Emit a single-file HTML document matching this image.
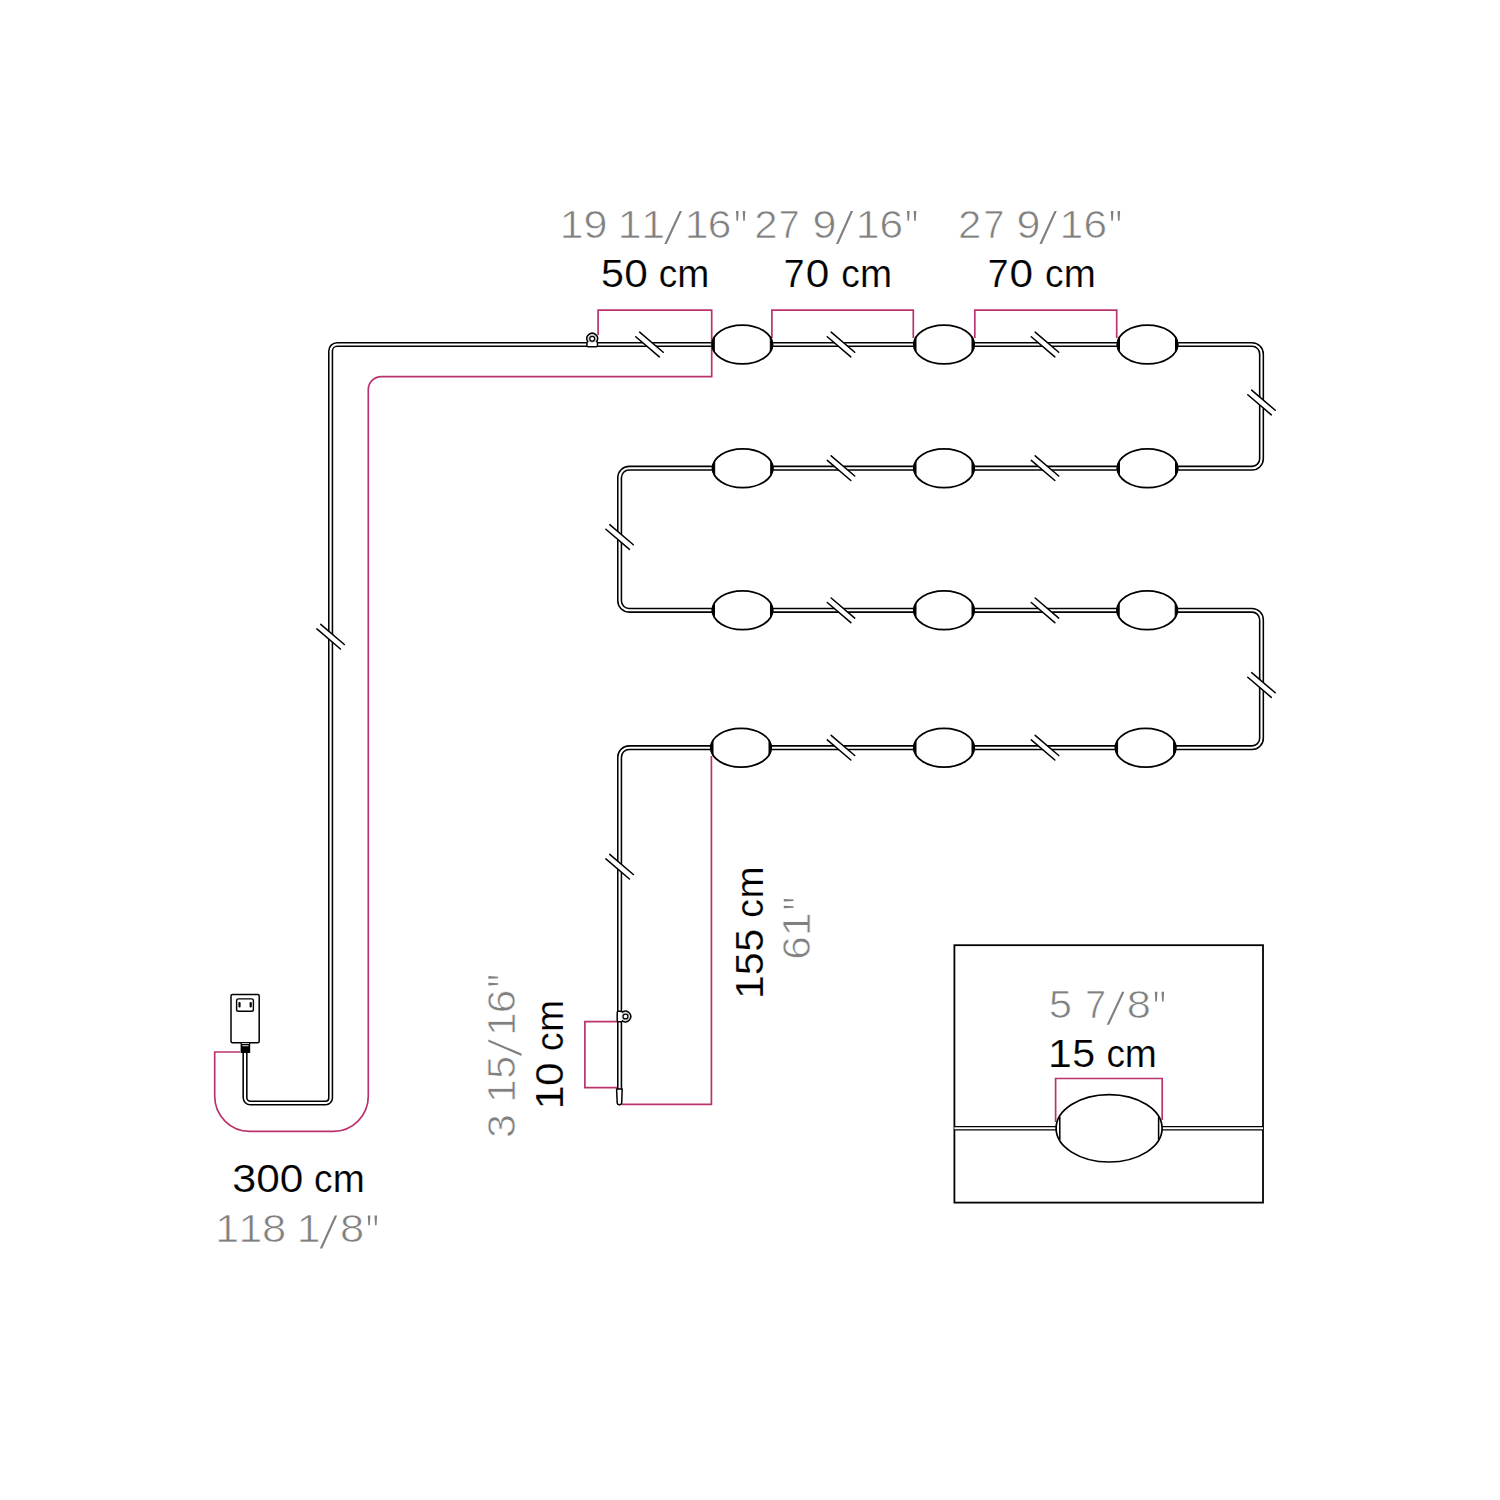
<!DOCTYPE html>
<html><head><meta charset="utf-8"><style>
html,body{margin:0;padding:0;background:#fff;overflow:hidden;width:1500px;height:1500px;}
svg{display:block;}
text{font-family:"Liberation Sans", sans-serif;font-size:38.5px;}
</style></head><body>
<svg width="1500" height="1500" viewBox="0 0 1500 1500">
<rect width="1500" height="1500" fill="#fff"/>
<path d="M240,1052 L214.7,1052 L214.7,1096.3 A35,35 0 0 0 249.7,1131.3 L333.3,1131.3 A35,35 0 0 0 368.3,1096.3 L368.3,389.6 A13,13 0 0 1 381.3,376.6 L711.7,376.6 L711.7,337" fill="none" stroke="#bb336e" stroke-width="1.7"/>
<path d="M598.1,335 L598.1,310.2 L711.7,310.2 L711.7,337" fill="none" stroke="#bb336e" stroke-width="1.7"/>
<path d="M771.9,338 L771.9,310.2 L913.3,310.2 L913.3,338" fill="none" stroke="#bb336e" stroke-width="1.7"/>
<path d="M974.8,338 L974.8,310.2 L1116.7,310.2 L1116.7,338" fill="none" stroke="#bb336e" stroke-width="1.7"/>
<path d="M711.4,756 L711.4,1104.3 L622,1104.3" fill="none" stroke="#bb336e" stroke-width="1.7"/>
<path d="M617.5,1021.7 L584.9,1021.7 L584.9,1087.6 L617.5,1087.6" fill="none" stroke="#bb336e" stroke-width="1.7"/>
<path d="M1055.6,1122 L1055.6,1078.5 L1162.2,1078.5 L1162.2,1120" fill="none" stroke="#bb336e" stroke-width="1.7"/>
<path d="M245.0,1053 L245.00,1097.50 A5.5,5.5 0 0 0 250.50,1103.00 L325.60,1103.00 A5,5 0 0 0 330.60,1098.00 L330.60,351.00 A6.5,6.5 0 0 1 337.10,344.50 L1252.00,344.50 A9.5,9.5 0 0 1 1261.50,354.00 L1261.50,458.70 A9.5,9.5 0 0 1 1252.00,468.20 L629.10,468.20 A9.5,9.5 0 0 0 619.60,477.70 L619.60,600.80 A9.5,9.5 0 0 0 629.10,610.30 L1252.00,610.30 A9.5,9.5 0 0 1 1261.50,619.80 L1261.50,738.20 A9.5,9.5 0 0 1 1252.00,747.70 L629.10,747.70 A9.5,9.5 0 0 0 619.60,757.20 L619.6,1092" fill="none" stroke="#000" stroke-width="5.2"/>
<path d="M245.0,1053 L245.00,1097.50 A5.5,5.5 0 0 0 250.50,1103.00 L325.60,1103.00 A5,5 0 0 0 330.60,1098.00 L330.60,351.00 A6.5,6.5 0 0 1 337.10,344.50 L1252.00,344.50 A9.5,9.5 0 0 1 1261.50,354.00 L1261.50,458.70 A9.5,9.5 0 0 1 1252.00,468.20 L629.10,468.20 A9.5,9.5 0 0 0 619.60,477.70 L619.60,600.80 A9.5,9.5 0 0 0 629.10,610.30 L1252.00,610.30 A9.5,9.5 0 0 1 1261.50,619.80 L1261.50,738.20 A9.5,9.5 0 0 1 1252.00,747.70 L629.10,747.70 A9.5,9.5 0 0 0 619.60,757.20 L619.6,1092" fill="none" stroke="#fff" stroke-width="2.1"/>
<polygon points="638.12,338.73 656.98,354.83 660.88,350.27 642.02,334.17" fill="#fff"/><line x1="635.77" y1="336.71" x2="659.34" y2="356.85" stroke="#000" stroke-width="1.5" stroke-linecap="round"/><line x1="639.66" y1="332.15" x2="663.23" y2="352.29" stroke="#000" stroke-width="1.5" stroke-linecap="round"/>
<polygon points="829.62,338.73 848.48,354.83 852.38,350.27 833.52,334.17" fill="#fff"/><line x1="827.27" y1="336.71" x2="850.84" y2="356.85" stroke="#000" stroke-width="1.5" stroke-linecap="round"/><line x1="831.16" y1="332.15" x2="854.73" y2="352.29" stroke="#000" stroke-width="1.5" stroke-linecap="round"/>
<polygon points="1033.62,338.73 1052.48,354.83 1056.38,350.27 1037.52,334.17" fill="#fff"/><line x1="1031.27" y1="336.71" x2="1054.84" y2="356.85" stroke="#000" stroke-width="1.5" stroke-linecap="round"/><line x1="1035.16" y1="332.15" x2="1058.73" y2="352.29" stroke="#000" stroke-width="1.5" stroke-linecap="round"/>
<polygon points="1250.12,396.73 1268.98,412.83 1272.88,408.27 1254.02,392.17" fill="#fff"/><line x1="1247.77" y1="394.71" x2="1271.34" y2="414.85" stroke="#000" stroke-width="1.5" stroke-linecap="round"/><line x1="1251.66" y1="390.15" x2="1275.23" y2="410.29" stroke="#000" stroke-width="1.5" stroke-linecap="round"/>
<polygon points="829.62,462.43 848.48,478.53 852.38,473.97 833.52,457.87" fill="#fff"/><line x1="827.27" y1="460.41" x2="850.84" y2="480.55" stroke="#000" stroke-width="1.5" stroke-linecap="round"/><line x1="831.16" y1="455.85" x2="854.73" y2="475.99" stroke="#000" stroke-width="1.5" stroke-linecap="round"/>
<polygon points="1033.62,462.43 1052.48,478.53 1056.38,473.97 1037.52,457.87" fill="#fff"/><line x1="1031.27" y1="460.41" x2="1054.84" y2="480.55" stroke="#000" stroke-width="1.5" stroke-linecap="round"/><line x1="1035.16" y1="455.85" x2="1058.73" y2="475.99" stroke="#000" stroke-width="1.5" stroke-linecap="round"/>
<polygon points="608.22,531.23 627.08,547.33 630.98,542.77 612.12,526.67" fill="#fff"/><line x1="605.87" y1="529.21" x2="629.44" y2="549.35" stroke="#000" stroke-width="1.5" stroke-linecap="round"/><line x1="609.76" y1="524.65" x2="633.33" y2="544.79" stroke="#000" stroke-width="1.5" stroke-linecap="round"/>
<polygon points="829.62,604.53 848.48,620.63 852.38,616.07 833.52,599.97" fill="#fff"/><line x1="827.27" y1="602.51" x2="850.84" y2="622.65" stroke="#000" stroke-width="1.5" stroke-linecap="round"/><line x1="831.16" y1="597.95" x2="854.73" y2="618.09" stroke="#000" stroke-width="1.5" stroke-linecap="round"/>
<polygon points="1033.62,604.53 1052.48,620.63 1056.38,616.07 1037.52,599.97" fill="#fff"/><line x1="1031.27" y1="602.51" x2="1054.84" y2="622.65" stroke="#000" stroke-width="1.5" stroke-linecap="round"/><line x1="1035.16" y1="597.95" x2="1058.73" y2="618.09" stroke="#000" stroke-width="1.5" stroke-linecap="round"/>
<polygon points="1250.12,679.23 1268.98,695.33 1272.88,690.77 1254.02,674.67" fill="#fff"/><line x1="1247.77" y1="677.21" x2="1271.34" y2="697.35" stroke="#000" stroke-width="1.5" stroke-linecap="round"/><line x1="1251.66" y1="672.65" x2="1275.23" y2="692.79" stroke="#000" stroke-width="1.5" stroke-linecap="round"/>
<polygon points="829.62,741.93 848.48,758.03 852.38,753.47 833.52,737.37" fill="#fff"/><line x1="827.27" y1="739.91" x2="850.84" y2="760.05" stroke="#000" stroke-width="1.5" stroke-linecap="round"/><line x1="831.16" y1="735.35" x2="854.73" y2="755.49" stroke="#000" stroke-width="1.5" stroke-linecap="round"/>
<polygon points="1033.62,741.93 1052.48,758.03 1056.38,753.47 1037.52,737.37" fill="#fff"/><line x1="1031.27" y1="739.91" x2="1054.84" y2="760.05" stroke="#000" stroke-width="1.5" stroke-linecap="round"/><line x1="1035.16" y1="735.35" x2="1058.73" y2="755.49" stroke="#000" stroke-width="1.5" stroke-linecap="round"/>
<polygon points="608.22,860.93 627.08,877.03 630.98,872.47 612.12,856.37" fill="#fff"/><line x1="605.87" y1="858.91" x2="629.44" y2="879.05" stroke="#000" stroke-width="1.5" stroke-linecap="round"/><line x1="609.76" y1="854.35" x2="633.33" y2="874.49" stroke="#000" stroke-width="1.5" stroke-linecap="round"/>
<polygon points="319.22,630.93 338.08,647.03 341.98,642.47 323.12,626.37" fill="#fff"/><line x1="316.87" y1="628.91" x2="340.44" y2="649.05" stroke="#000" stroke-width="1.5" stroke-linecap="round"/><line x1="320.76" y1="624.35" x2="344.33" y2="644.49" stroke="#000" stroke-width="1.5" stroke-linecap="round"/>
<ellipse cx="742.3" cy="344.5" rx="30.2" ry="19.4" fill="#fff" stroke="#000" stroke-width="1.8"/><path d="M714.30,337.23 A30.2,19.4 0 0 0 714.30,351.77 Z" fill="#000" stroke="#000" stroke-width="1"/><path d="M770.30,337.23 A30.2,19.4 0 0 1 770.30,351.77 Z" fill="#000" stroke="#000" stroke-width="1"/>
<ellipse cx="944" cy="344.5" rx="30.2" ry="19.4" fill="#fff" stroke="#000" stroke-width="1.8"/><path d="M916.00,337.23 A30.2,19.4 0 0 0 916.00,351.77 Z" fill="#000" stroke="#000" stroke-width="1"/><path d="M972.00,337.23 A30.2,19.4 0 0 1 972.00,351.77 Z" fill="#000" stroke="#000" stroke-width="1"/>
<ellipse cx="1147.5" cy="344.5" rx="30.2" ry="19.4" fill="#fff" stroke="#000" stroke-width="1.8"/><path d="M1119.50,337.23 A30.2,19.4 0 0 0 1119.50,351.77 Z" fill="#000" stroke="#000" stroke-width="1"/><path d="M1175.50,337.23 A30.2,19.4 0 0 1 1175.50,351.77 Z" fill="#000" stroke="#000" stroke-width="1"/>
<ellipse cx="742.7" cy="468.2" rx="30.2" ry="19.4" fill="#fff" stroke="#000" stroke-width="1.8"/><path d="M714.70,460.93 A30.2,19.4 0 0 0 714.70,475.47 Z" fill="#000" stroke="#000" stroke-width="1"/><path d="M770.70,460.93 A30.2,19.4 0 0 1 770.70,475.47 Z" fill="#000" stroke="#000" stroke-width="1"/>
<ellipse cx="944" cy="468.2" rx="30.2" ry="19.4" fill="#fff" stroke="#000" stroke-width="1.8"/><path d="M916.00,460.93 A30.2,19.4 0 0 0 916.00,475.47 Z" fill="#000" stroke="#000" stroke-width="1"/><path d="M972.00,460.93 A30.2,19.4 0 0 1 972.00,475.47 Z" fill="#000" stroke="#000" stroke-width="1"/>
<ellipse cx="1147.5" cy="468.2" rx="30.2" ry="19.4" fill="#fff" stroke="#000" stroke-width="1.8"/><path d="M1119.50,460.93 A30.2,19.4 0 0 0 1119.50,475.47 Z" fill="#000" stroke="#000" stroke-width="1"/><path d="M1175.50,460.93 A30.2,19.4 0 0 1 1175.50,475.47 Z" fill="#000" stroke="#000" stroke-width="1"/>
<ellipse cx="742.5" cy="610.3" rx="30.2" ry="19.4" fill="#fff" stroke="#000" stroke-width="1.8"/><path d="M714.50,603.03 A30.2,19.4 0 0 0 714.50,617.57 Z" fill="#000" stroke="#000" stroke-width="1"/><path d="M770.50,603.03 A30.2,19.4 0 0 1 770.50,617.57 Z" fill="#000" stroke="#000" stroke-width="1"/>
<ellipse cx="944" cy="610.3" rx="30.2" ry="19.4" fill="#fff" stroke="#000" stroke-width="1.8"/><path d="M916.00,603.03 A30.2,19.4 0 0 0 916.00,617.57 Z" fill="#000" stroke="#000" stroke-width="1"/><path d="M972.00,603.03 A30.2,19.4 0 0 1 972.00,617.57 Z" fill="#000" stroke="#000" stroke-width="1"/>
<ellipse cx="1147.2" cy="610.3" rx="30.2" ry="19.4" fill="#fff" stroke="#000" stroke-width="1.8"/><path d="M1119.20,603.03 A30.2,19.4 0 0 0 1119.20,617.57 Z" fill="#000" stroke="#000" stroke-width="1"/><path d="M1175.20,603.03 A30.2,19.4 0 0 1 1175.20,617.57 Z" fill="#000" stroke="#000" stroke-width="1"/>
<ellipse cx="741" cy="747.7" rx="30.2" ry="19.4" fill="#fff" stroke="#000" stroke-width="1.8"/><path d="M713.00,740.43 A30.2,19.4 0 0 0 713.00,754.97 Z" fill="#000" stroke="#000" stroke-width="1"/><path d="M769.00,740.43 A30.2,19.4 0 0 1 769.00,754.97 Z" fill="#000" stroke="#000" stroke-width="1"/>
<ellipse cx="944" cy="747.7" rx="30.2" ry="19.4" fill="#fff" stroke="#000" stroke-width="1.8"/><path d="M916.00,740.43 A30.2,19.4 0 0 0 916.00,754.97 Z" fill="#000" stroke="#000" stroke-width="1"/><path d="M972.00,740.43 A30.2,19.4 0 0 1 972.00,754.97 Z" fill="#000" stroke="#000" stroke-width="1"/>
<ellipse cx="1145.6" cy="747.7" rx="30.2" ry="19.4" fill="#fff" stroke="#000" stroke-width="1.8"/><path d="M1117.60,740.43 A30.2,19.4 0 0 0 1117.60,754.97 Z" fill="#000" stroke="#000" stroke-width="1"/><path d="M1173.60,740.43 A30.2,19.4 0 0 1 1173.60,754.97 Z" fill="#000" stroke="#000" stroke-width="1"/>
<g transform="translate(592.2,344.5) rotate(0)"><path d="M-5.3,1.1 L-5.3,-1.6 Q-5.3,-2.4 -4.4,-2.9 A5.3,5.3 0 1 1 4.4,-2.9 Q5.3,-2.4 5.3,-1.6 L5.3,1.1 Q5.3,2.3 4.1,2.3 L-4.1,2.3 Q-5.3,2.3 -5.3,1.1 Z" fill="#fff" stroke="#000" stroke-width="1.5"/><circle cx="0" cy="-5.8" r="3.7" fill="none" stroke="#b8b8b8" stroke-width="0.9"/><circle cx="0" cy="-5.8" r="2.45" fill="#fff" stroke="#000" stroke-width="1.25"/></g>
<g transform="translate(619.5,1016.5) rotate(90)"><path d="M-5.3,1.1 L-5.3,-1.6 Q-5.3,-2.4 -4.4,-2.9 A5.3,5.3 0 1 1 4.4,-2.9 Q5.3,-2.4 5.3,-1.6 L5.3,1.1 Q5.3,2.3 4.1,2.3 L-4.1,2.3 Q-5.3,2.3 -5.3,1.1 Z" fill="#fff" stroke="#000" stroke-width="1.5"/><circle cx="0" cy="-6.0" r="3.7" fill="none" stroke="#b8b8b8" stroke-width="0.9"/><circle cx="0" cy="-6.0" r="2.45" fill="#fff" stroke="#000" stroke-width="1.25"/></g>
<path d="M616.6,1089 L622.2,1089 L621.7,1102.6 A2.25,2.25 0 0 1 617.2,1102.6 Z" fill="#fff" stroke="#000" stroke-width="1.5" stroke-linejoin="round"/>
<rect x="231" y="994.4" width="28.2" height="48.3" rx="1.5" fill="#fff" stroke="#000" stroke-width="1.5"/>
<rect x="236.6" y="998.9" width="16.8" height="12.3" rx="1.8" fill="#fff" stroke="#000" stroke-width="1.4"/>
<rect x="238.4" y="1002.0" width="2.2" height="5.4" rx="1.0" fill="#000"/>
<rect x="249.6" y="1002.0" width="2.2" height="5.4" rx="1.0" fill="#000"/>
<rect x="240.6" y="1042" width="9.6" height="11" fill="#000"/>
<rect x="241.8" y="1043.1" width="7.2" height="0.8" fill="#fff"/>
<rect x="242.4" y="1045.3" width="6.0" height="0.9" fill="#fff"/>
<rect x="954.4" y="945.2" width="308.6" height="257.4" fill="none" stroke="#000" stroke-width="1.8"/>
<path d="M954.4,1128.2 L1263,1128.2" stroke="#000" stroke-width="4.6"/>
<path d="M954.4,1128.2 L1263,1128.2" stroke="#fff" stroke-width="2.0"/>
<ellipse cx="1109.1" cy="1128.3" rx="53.0" ry="33.7" fill="#fff" stroke="#000" stroke-width="1.7"/>
<path d="M1059.8,1116.8 L1059.8,1139.8" fill="none" stroke="#000" stroke-width="1.5"/>
<path d="M1158.6,1116.8 L1158.6,1139.8" fill="none" stroke="#000" stroke-width="1.5"/>
<text transform="translate(559.74,237.60) scale(1.11,1)" fill="#808080" stroke="#fff" stroke-width="0.7">1</text><text transform="translate(583.38,237.60) scale(1.12,1)" fill="#808080" stroke="#fff" stroke-width="0.7">9</text><text transform="translate(617.74,237.60) scale(1.11,1)" fill="#808080" stroke="#fff" stroke-width="0.7">1</text><text transform="translate(641.14,237.60) scale(1.11,1)" fill="#808080" stroke="#fff" stroke-width="0.7">1</text><polygon points="664.30,244.10 666.70,244.10 682.00,211.00 679.60,211.00" fill="#808080"/><text transform="translate(684.74,237.60) scale(1.11,1)" fill="#808080" stroke="#fff" stroke-width="0.7">1</text><text transform="translate(707.85,237.60) scale(1.1,1)" fill="#808080" stroke="#fff" stroke-width="0.7">6</text><polygon points="736.00,211.00 738.60,211.00 738.05,220.80 736.55,220.80" fill="#808080"/><polygon points="742.70,211.00 745.30,211.00 744.75,220.80 743.25,220.80" fill="#808080"/>
<text transform="translate(754.19,237.60) scale(1.09,1)" fill="#808080" stroke="#fff" stroke-width="0.7">2</text><text transform="translate(778.69,237.60) scale(0.97,1)" fill="#808080" stroke="#fff" stroke-width="0.7">7</text><text transform="translate(812.48,237.60) scale(1.12,1)" fill="#808080" stroke="#fff" stroke-width="0.7">9</text><polygon points="836.00,244.10 838.40,244.10 853.10,211.00 850.70,211.00" fill="#808080"/><text transform="translate(855.84,237.60) scale(1.11,1)" fill="#808080" stroke="#fff" stroke-width="0.7">1</text><text transform="translate(879.45,237.60) scale(1.1,1)" fill="#808080" stroke="#fff" stroke-width="0.7">6</text><polygon points="907.00,211.00 909.60,211.00 909.05,220.80 907.55,220.80" fill="#808080"/><polygon points="913.70,211.00 916.30,211.00 915.75,220.80 914.25,220.80" fill="#808080"/>
<text transform="translate(958.09,237.60) scale(1.09,1)" fill="#808080" stroke="#fff" stroke-width="0.7">2</text><text transform="translate(983.49,237.60) scale(0.97,1)" fill="#808080" stroke="#fff" stroke-width="0.7">7</text><text transform="translate(1016.38,237.60) scale(1.12,1)" fill="#808080" stroke="#fff" stroke-width="0.7">9</text><polygon points="1039.40,244.10 1041.80,244.10 1056.80,211.00 1054.40,211.00" fill="#808080"/><text transform="translate(1059.54,237.60) scale(1.11,1)" fill="#808080" stroke="#fff" stroke-width="0.7">1</text><text transform="translate(1083.45,237.60) scale(1.1,1)" fill="#808080" stroke="#fff" stroke-width="0.7">6</text><polygon points="1110.80,211.00 1113.40,211.00 1112.85,220.80 1111.35,220.80" fill="#808080"/><polygon points="1117.50,211.00 1120.10,211.00 1119.55,220.80 1118.05,220.80" fill="#808080"/>
<text transform="translate(600.95,287.00) scale(1.07,1)" fill="#000" stroke="#fff" stroke-width="0.2">5</text><text transform="translate(624.15,287.00) scale(1.1,1)" fill="#000" stroke="#fff" stroke-width="0.2">0</text><text transform="translate(658.63,287.00) scale(0.96,1)" fill="#000" stroke="#fff" stroke-width="0.2">c</text><text transform="translate(677.24,287.00) scale(1.0,1)" fill="#000" stroke="#fff" stroke-width="0.2">m</text>
<text transform="translate(783.79,287.00) scale(0.97,1)" fill="#000" stroke="#fff" stroke-width="0.2">7</text><text transform="translate(805.65,287.00) scale(1.1,1)" fill="#000" stroke="#fff" stroke-width="0.2">0</text><text transform="translate(841.13,287.00) scale(0.96,1)" fill="#000" stroke="#fff" stroke-width="0.2">c</text><text transform="translate(859.94,287.00) scale(1.0,1)" fill="#000" stroke="#fff" stroke-width="0.2">m</text>
<text transform="translate(987.69,287.00) scale(0.97,1)" fill="#000" stroke="#fff" stroke-width="0.2">7</text><text transform="translate(1009.55,287.00) scale(1.1,1)" fill="#000" stroke="#fff" stroke-width="0.2">0</text><text transform="translate(1045.03,287.00) scale(0.96,1)" fill="#000" stroke="#fff" stroke-width="0.2">c</text><text transform="translate(1063.84,287.00) scale(1.0,1)" fill="#000" stroke="#fff" stroke-width="0.2">m</text>
<text transform="translate(232.36,1192.20) scale(1.12,1)" fill="#000" stroke="#fff" stroke-width="0.2">3</text><text transform="translate(256.35,1192.20) scale(1.1,1)" fill="#000" stroke="#fff" stroke-width="0.2">0</text><text transform="translate(279.75,1192.20) scale(1.1,1)" fill="#000" stroke="#fff" stroke-width="0.2">0</text><text transform="translate(314.03,1192.20) scale(0.96,1)" fill="#000" stroke="#fff" stroke-width="0.2">c</text><text transform="translate(332.84,1192.20) scale(1.0,1)" fill="#000" stroke="#fff" stroke-width="0.2">m</text>
<text transform="translate(215.14,1242.00) scale(1.11,1)" fill="#808080" stroke="#fff" stroke-width="0.7">1</text><text transform="translate(238.54,1242.00) scale(1.11,1)" fill="#808080" stroke="#fff" stroke-width="0.7">1</text><text transform="translate(262.11,1242.00) scale(1.13,1)" fill="#808080" stroke="#fff" stroke-width="0.7">8</text><text transform="translate(296.74,1242.00) scale(1.11,1)" fill="#808080" stroke="#fff" stroke-width="0.7">1</text><polygon points="319.80,1248.50 322.20,1248.50 337.20,1215.40 334.80,1215.40" fill="#808080"/><text transform="translate(340.11,1242.00) scale(1.13,1)" fill="#808080" stroke="#fff" stroke-width="0.7">8</text><polygon points="367.80,1215.40 370.40,1215.40 369.85,1225.20 368.35,1225.20" fill="#808080"/><polygon points="374.50,1215.40 377.10,1215.40 376.55,1225.20 375.05,1225.20" fill="#808080"/>
<text transform="translate(1049.05,1018.30) scale(1.07,1)" fill="#808080" stroke="#fff" stroke-width="0.7">5</text><text transform="translate(1085.19,1018.30) scale(0.97,1)" fill="#808080" stroke="#fff" stroke-width="0.7">7</text><polygon points="1106.70,1024.80 1109.10,1024.80 1124.50,991.70 1122.10,991.70" fill="#808080"/><text transform="translate(1126.81,1018.30) scale(1.13,1)" fill="#808080" stroke="#fff" stroke-width="0.7">8</text><polygon points="1154.80,991.70 1157.40,991.70 1156.85,1001.50 1155.35,1001.50" fill="#808080"/><polygon points="1161.50,991.70 1164.10,991.70 1163.55,1001.50 1162.05,1001.50" fill="#808080"/>
<text transform="translate(1047.94,1067.30) scale(1.11,1)" fill="#000" stroke="#fff" stroke-width="0.2">1</text><text transform="translate(1072.35,1067.30) scale(1.07,1)" fill="#000" stroke="#fff" stroke-width="0.2">5</text><text transform="translate(1106.53,1067.30) scale(0.96,1)" fill="#000" stroke="#fff" stroke-width="0.2">c</text><text transform="translate(1124.74,1067.30) scale(1.0,1)" fill="#000" stroke="#fff" stroke-width="0.2">m</text>
<g transform="translate(762.7,0) rotate(-90)"><text transform="translate(-999.06,0.00) scale(1.11,1)" fill="#000" stroke="#fff" stroke-width="0.2">1</text><text transform="translate(-975.25,0.00) scale(1.07,1)" fill="#000" stroke="#fff" stroke-width="0.2">5</text><text transform="translate(-951.85,0.00) scale(1.07,1)" fill="#000" stroke="#fff" stroke-width="0.2">5</text><text transform="translate(-917.67,0.00) scale(0.96,1)" fill="#000" stroke="#fff" stroke-width="0.2">c</text><text transform="translate(-898.56,0.00) scale(1.0,1)" fill="#000" stroke="#fff" stroke-width="0.2">m</text></g>
<g transform="translate(810.4,0) rotate(-90)"><text transform="translate(-959.85,0.00) scale(1.1,1)" fill="#808080" stroke="#fff" stroke-width="0.7">6</text><text transform="translate(-936.16,0.00) scale(1.11,1)" fill="#808080" stroke="#fff" stroke-width="0.7">1</text><polygon points="-908.30,-26.60 -905.70,-26.60 -906.25,-16.80 -907.75,-16.80" fill="#808080"/><polygon points="-901.60,-26.60 -899.00,-26.60 -899.55,-16.80 -901.05,-16.80" fill="#808080"/></g>
<g transform="translate(563.0,0) rotate(-90)"><text transform="translate(-1109.26,0.00) scale(1.11,1)" fill="#000" stroke="#fff" stroke-width="0.2">1</text><text transform="translate(-1085.95,0.00) scale(1.1,1)" fill="#000" stroke="#fff" stroke-width="0.2">0</text><text transform="translate(-1050.97,0.00) scale(0.96,1)" fill="#000" stroke="#fff" stroke-width="0.2">c</text><text transform="translate(-1032.06,0.00) scale(1.0,1)" fill="#000" stroke="#fff" stroke-width="0.2">m</text></g>
<g transform="translate(515.0,0) rotate(-90)"><text transform="translate(-1137.94,0.00) scale(1.12,1)" fill="#808080" stroke="#fff" stroke-width="0.7">3</text><text transform="translate(-1102.96,0.00) scale(1.11,1)" fill="#808080" stroke="#fff" stroke-width="0.7">1</text><text transform="translate(-1078.65,0.00) scale(1.07,1)" fill="#808080" stroke="#fff" stroke-width="0.7">5</text><polygon points="-1056.00,6.50 -1053.60,6.50 -1039.40,-26.60 -1041.80,-26.60" fill="#808080"/><text transform="translate(-1036.06,0.00) scale(1.11,1)" fill="#808080" stroke="#fff" stroke-width="0.7">1</text><text transform="translate(-1013.35,0.00) scale(1.1,1)" fill="#808080" stroke="#fff" stroke-width="0.7">6</text><polygon points="-985.40,-26.60 -982.80,-26.60 -983.35,-16.80 -984.85,-16.80" fill="#808080"/><polygon points="-978.70,-26.60 -976.10,-26.60 -976.65,-16.80 -978.15,-16.80" fill="#808080"/></g>
</svg></body></html>
